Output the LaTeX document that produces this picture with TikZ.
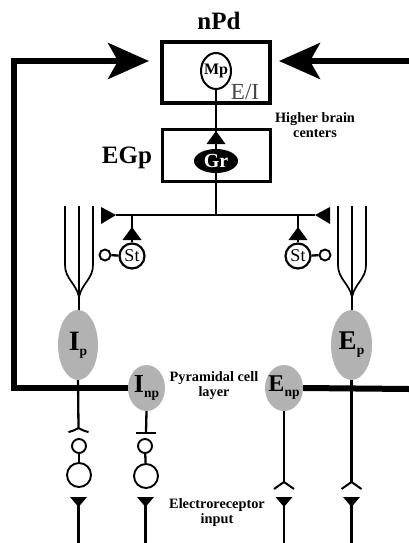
\documentclass[tikz,border=0pt]{standalone}
\usepackage{fontspec}
\setmainfont{Liberation Serif}
\usetikzlibrary{arrows.meta, shapes.geometric}
\definecolor{somafill}{RGB}{178, 178, 178}
\definecolor{eilabel}{RGB}{70, 70, 70}
\newcommand{\somalabel}[3]{\makebox[0pt]{\fontsize{#3}{#3}\selectfont\bfseries #1\raisebox{-5pt}{\fontsize{13.5}{14}\selectfont #2}}}
\tikzset{
    regionbox/.style={draw, rectangle, inner sep=0pt},
    soma/.style={ellipse, fill=somafill, inner sep=0pt},
    smallball/.style={draw, circle, line width=1.9pt, fill=white, inner sep=0pt, minimum size=14pt},
    bigball/.style={draw, circle, line width=1.9pt, fill=white, inner sep=0pt, minimum size=24pt},
    stcell/.style={draw, circle, line width=2.2pt, fill=white, inner sep=0pt, minimum size=25pt,
        font=\fontsize{18}{18}\selectfont},
    tinyball/.style={draw, circle, line width=1.9pt, fill=white, inner sep=0pt, minimum size=11pt},
    title/.style={font=\fontsize{25}{25}\selectfont\bfseries},
    caption/.style={font=\fontsize{14.3}{16}\selectfont\bfseries, align=center},
    fibre/.style={line width=2.3pt},
    tract/.style={line width=5.5pt, line join=miter, -{Stealth[length=41pt, width=36pt, inset=10pt]}},
    upsyn/.pic={\fill (0, 0) -- (9.5, 13) -- (-9.5, 13) -- cycle;},
    downsyn/.pic={\fill (-8.5, 0) -- (8.5, 0) -- (0, 10) -- cycle;},
    chevron/.pic={\draw[line width=2pt] (-10, 7) -- (0, 0) -- (10, 7);},
    flatchevron/.pic={\draw[line width=2pt] (-10, 4) .. controls (-5, 3) and (-2, 1) .. (0, 0)
        .. controls (2, 1) and (5, 3) .. (10, 4);},
    dendrites/.pic={
        \draw[line width=1.7pt] (-14, -105) -- (-14, -46)
            .. controls (-14, -32) and (-3, -28) .. (0, -14);
        \draw[line width=1.7pt] (14, -105) -- (14, -46)
            .. controls (14, -32) and (3, -28) .. (0, -14);
        \draw[line width=1.7pt] (0, -105) -- (0, -16);
        \draw[line width=2.6pt] (0, -18) -- (0, 0);
    },
}

\begin{document}
\begin{tikzpicture}[x=1pt, y=-1pt]
    \useasboundingbox (0, 0) rectangle (409, 543);
    % upper boxes
    \node[regionbox, line width=4pt, minimum width=108pt, minimum height=61pt] (npd) at (216, 72.5) {};
    \node[regionbox, line width=3pt, minimum width=108pt, minimum height=52pt] (egp) at (216, 155) {};
    \node[title] (npdlabel) at (219, 21) {nPd};
    \node[title] (egplabel) at (127, 158) {EGp};
    \node[draw, ellipse, line width=2pt, fill=white, inner sep=0pt, minimum width=30pt, minimum height=36pt,
        font=\fontsize{16}{16}\selectfont\bfseries] (mp) at (216, 71) {\makebox[0pt]{Mp}};
    \node[font=\fontsize{23}{23}\selectfont, text=eilabel] (ei) at (245, 92) {E/I};
    \node[ellipse, fill=black, text=white, inner sep=0pt, minimum width=44pt, minimum height=24pt,
        font=\fontsize{20}{20}\selectfont\bfseries] (gr) at (216, 161) {\makebox[0pt]{Gr}};
    \node[caption] (higher) at (315, 125) {Higher brain\\[-1pt]centers};
    % granule output
    \coordinate (branch) at (216, 215);
    \coordinate (leftsyn) at (116, 215);
    \coordinate (rightsyn) at (315, 215);
    \draw[fibre] (mp) -- (gr);
    \pic at (216, 131) {upsyn};
    \fill (leftsyn) -- (101, 207) -- (101, 224) -- cycle;
    \fill (rightsyn) -- (330, 207) -- (330, 224) -- cycle;
    \draw[fibre] (gr) -- (branch);
    \draw[fibre] (leftsyn) -- (rightsyn);
    % stellate cells
    \node[stcell] (stleft) at (132, 256) {St};
    \node[stcell] (stright) at (298, 256) {St};
    \node[tinyball] (tinyleft) at (105, 255) {};
    \node[tinyball] (tinyright) at (325, 255) {};
    \coordinate (stemleft) at (132, 215);
    \coordinate (stemright) at (298, 215);
    \draw[fibre] (stemleft) -- (stleft);
    \draw[fibre] (stemright) -- (stright);
    \pic at (132, 227) {upsyn};
    \pic at (298, 227) {upsyn};
    \draw[fibre] (stleft) -- (tinyleft);
    \draw[fibre] (stright) -- (tinyright);
    % pyramidal cells
    \pic at (79, 311) {dendrites};
    \pic at (352, 311) {dendrites};
    \node[soma, minimum width=40pt, minimum height=70pt] (ip) at (78, 345) {\somalabel{I}{p}{28}};
    \node[soma, minimum width=41pt, minimum height=70pt] (ep) at (351.5, 345) {\somalabel{E}{p}{27}};
    \node[soma, minimum width=37pt, minimum height=46pt] (inp) at (146.5, 388) {\somalabel{I}{np}{26}};
    \node[soma, minimum width=38pt, minimum height=46pt] (enp) at (284, 388) {\somalabel{E}{np}{24}};
    \node[caption] (pyrlayer) at (214, 386) {Pyramidal cell\\[-1pt]layer};
    % tracts to nPd
    \coordinate (cornerbottom) at (14, 388);
    \coordinate (cornertop) at (14, 61);
    \coordinate (leftin) at (149, 61);
    \coordinate (rightin) at (279, 61);
    \coordinate (rightedge) at (409, 61);
    \coordinate (rightout) at (409, 389);
    \draw[tract] (inp.west) -- (cornerbottom) -- (cornertop) -- (leftin);
    \draw[tract] (rightedge) -- (rightin);
    \draw[line width=6pt] (enp.east) -- (rightout);
    % descending fibres
    \coordinate (ipend) at (78.5, 428);
    \coordinate (inpend) at (146, 432);
    \coordinate (enpend) at (284, 482);
    \coordinate (epend) at (351.5, 482);
    \draw[fibre] (ip.south) -- (ipend);
    \draw[fibre] (inp.south) -- (inpend);
    \draw[fibre] (enp.south) -- (enpend);
    \draw[fibre] (ep.south) -- (epend);
    \pic at (ipend) {flatchevron};
    \draw[line width=2pt] (136, 433) -- (156, 433);
    \pic at (enpend) {chevron};
    \pic at (epend) {chevron};
    % interneurons
    \node[bigball] (bigleft) at (79, 475) {};
    \node[smallball] (smallleft) at (79, 446) {};
    \node[bigball] (bigmid) at (146, 476) {};
    \node[smallball] (smallmid) at (145, 446) {};
    \draw[fibre] (smallleft) -- (bigleft);
    \draw[fibre] (smallmid) -- (bigmid);
    % electroreceptor input
    \foreach \name/\xpos in {a/78.5, b/145.5, c/284, d/351.5} {
        \coordinate (in\name) at (\xpos, 499);
        \coordinate (out\name) at (\xpos, 543);
        \pic at (\xpos, 497) {downsyn};
        \draw[fibre] (in\name) -- (out\name);
    }
    \node[caption] (input) at (217, 513) {Electroreceptor\\[-1pt]input};
\end{tikzpicture}
\end{document}
